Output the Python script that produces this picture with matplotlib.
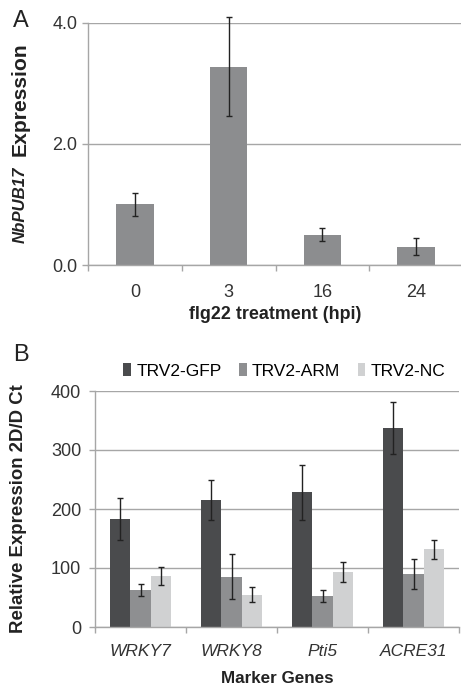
import numpy as np
import matplotlib
matplotlib.use("Agg")
import matplotlib.pyplot as plt

plt.rcParams["font.family"] = ["Liberation Sans", "DejaVu Sans"]

# panel A data
hpi_labels = ["0", "3", "16", "24"]
pub17_expr = [1.0, 3.28, 0.50, 0.30]
pub17_err = [0.19, 0.82, 0.11, 0.14]

# panel B data
genes = ["WRKY7", "WRKY8", "Pti5", "ACRE31"]
series_names = ["TRV2-GFP", "TRV2-ARM", "TRV2-NC"]
gfp_vals = [183, 216, 228, 337]
gfp_err = [35, 34, 46, 44]
arm_vals = [63, 85, 53, 90]
arm_err = [10, 38, 10, 26]
nc_vals = [87, 55, 94, 132]
nc_err = [15, 12, 17, 16]

grid_col = "#a6a6a6"
bar_a_col = "#8c8d8f"
series_cols = ["#4a4b4d", "#8e8f91", "#d0d1d2"]
text_col = "#222222"

fig = plt.figure(figsize=(4.61, 6.91), dpi=100)
W, H = 461, 691
renderer = fig.canvas.get_renderer()


def px_axes(l, t, r, b):
    return fig.add_axes([l / W, 1 - b / H, (r - l) / W, (b - t) / H])


def fit_size(txt, length_px, vertical=False):
    # scale font so the text spans about length_px pixels
    ext = txt.get_window_extent(renderer)
    cur = ext.height if vertical else ext.width
    txt.set_fontsize(txt.get_fontsize() * length_px / cur)


def style_axes(ax, ncat):
    for s in ["top", "right"]:
        ax.spines[s].set_visible(False)
    for s in ["left", "bottom"]:
        ax.spines[s].set_color(grid_col)
        ax.spines[s].set_linewidth(1.0)
    ax.yaxis.grid(True, color=grid_col, linewidth=1.0)
    ax.set_axisbelow(True)
    ax.set_xlim(-0.5, ncat - 0.5)
    ax.set_xticks(np.arange(ncat))
    ax.set_xticks(np.arange(ncat + 1) - 0.5, minor=True)
    ax.tick_params(axis="x", which="major", length=0)
    ax.tick_params(axis="x", which="minor", length=4, color=grid_col, width=1.0)
    ax.tick_params(axis="y", length=4, color=grid_col, width=1.0, colors="#333333")
    ax.tick_params(axis="x", colors="#333333")


# ---------- panel A ----------
axA = px_axes(88, 23, 463, 265)
x = np.arange(len(hpi_labels))
axA.bar(x, pub17_expr, width=0.4, color=bar_a_col, zorder=2)
axA.errorbar(x, pub17_expr, yerr=pub17_err, fmt="none", ecolor=text_col,
             elinewidth=1.0, capsize=2.5, capthick=1.0, zorder=3, clip_on=False)
style_axes(axA, len(hpi_labels))
axA.set_ylim(0, 4.0)
axA.set_yticks([0.0, 2.0, 4.0])
axA.set_yticklabels(["0.0", "2.0", "4.0"], fontsize=13)
axA.set_xticklabels(hpi_labels, fontsize=13)
axA.tick_params(axis="x", which="major", pad=14)
xlabA = axA.set_xlabel("flg22 treatment (hpi)", fontsize=12.8, fontweight="bold",
                       labelpad=3, color=text_col)
fit_size(xlabA, 172)

# y label of panel A: italic gene name + plain word
t1 = fig.text(20 / W, 1 - 243 / H, "NbPUB17", rotation=90, ha="center", va="bottom",
              fontsize=12, fontweight="bold", fontstyle="italic", color=text_col)
fit_size(t1, 76, vertical=True)
t2 = fig.text(20 / W, 0.5, "Expression", rotation=90, ha="center",
              va="bottom", fontsize=12, fontweight="bold", color=text_col)
fit_size(t2, 113, vertical=True)
top1 = t1.get_window_extent(renderer).y1
t2.set_y((top1 + 10) / H)
fig.text(13 / W, 1 - 21 / H, "A", fontsize=17, ha="left", va="center", color=text_col)

# ---------- panel B ----------
axB = px_axes(95, 391, 459, 627)
xb = np.arange(len(genes))
bw = 0.225
vals = [gfp_vals, arm_vals, nc_vals]
errs = [gfp_err, arm_err, nc_err]
for i, (v, e) in enumerate(zip(vals, errs)):
    pos = xb + (i - 1) * bw
    axB.bar(pos, v, width=bw, color=series_cols[i], label=series_names[i], zorder=2)
    axB.errorbar(pos, v, yerr=e, fmt="none", ecolor=text_col, elinewidth=1.0,
                 capsize=2.5, capthick=1.0, zorder=3)
style_axes(axB, len(genes))
axB.set_ylim(0, 400)
axB.set_yticks([0, 100, 200, 300, 400])
axB.tick_params(axis="y", labelsize=13, pad=6)
axB.set_xticklabels(genes, fontsize=12.5, fontstyle="italic")
axB.tick_params(axis="x", which="major", pad=12)
xlabB = axB.set_xlabel("Marker Genes", fontsize=12.3, fontweight="bold", labelpad=9,
                       color=text_col)
fit_size(xlabB, 113)
ylabB = axB.set_ylabel("Relative Expression 2D/D Ct", fontsize=12.3,
                       fontweight="bold", color=text_col)
fit_size(ylabB, 250, vertical=True)
axB.yaxis.set_label_coords(-0.187, 0.5)
axB.legend(loc="center", bbox_to_anchor=(0.52, 1 + 20 / 236), ncol=3, frameon=False,
           fontsize=12.5, handlelength=0.45, handleheight=0.7, handletextpad=0.3,
           columnspacing=1.0, borderaxespad=0, borderpad=0)
fig.text(13 / W, 1 - 355 / H, "B", fontsize=17, ha="left", va="center", color=text_col)

fig.savefig("out.png", dpi=100)
